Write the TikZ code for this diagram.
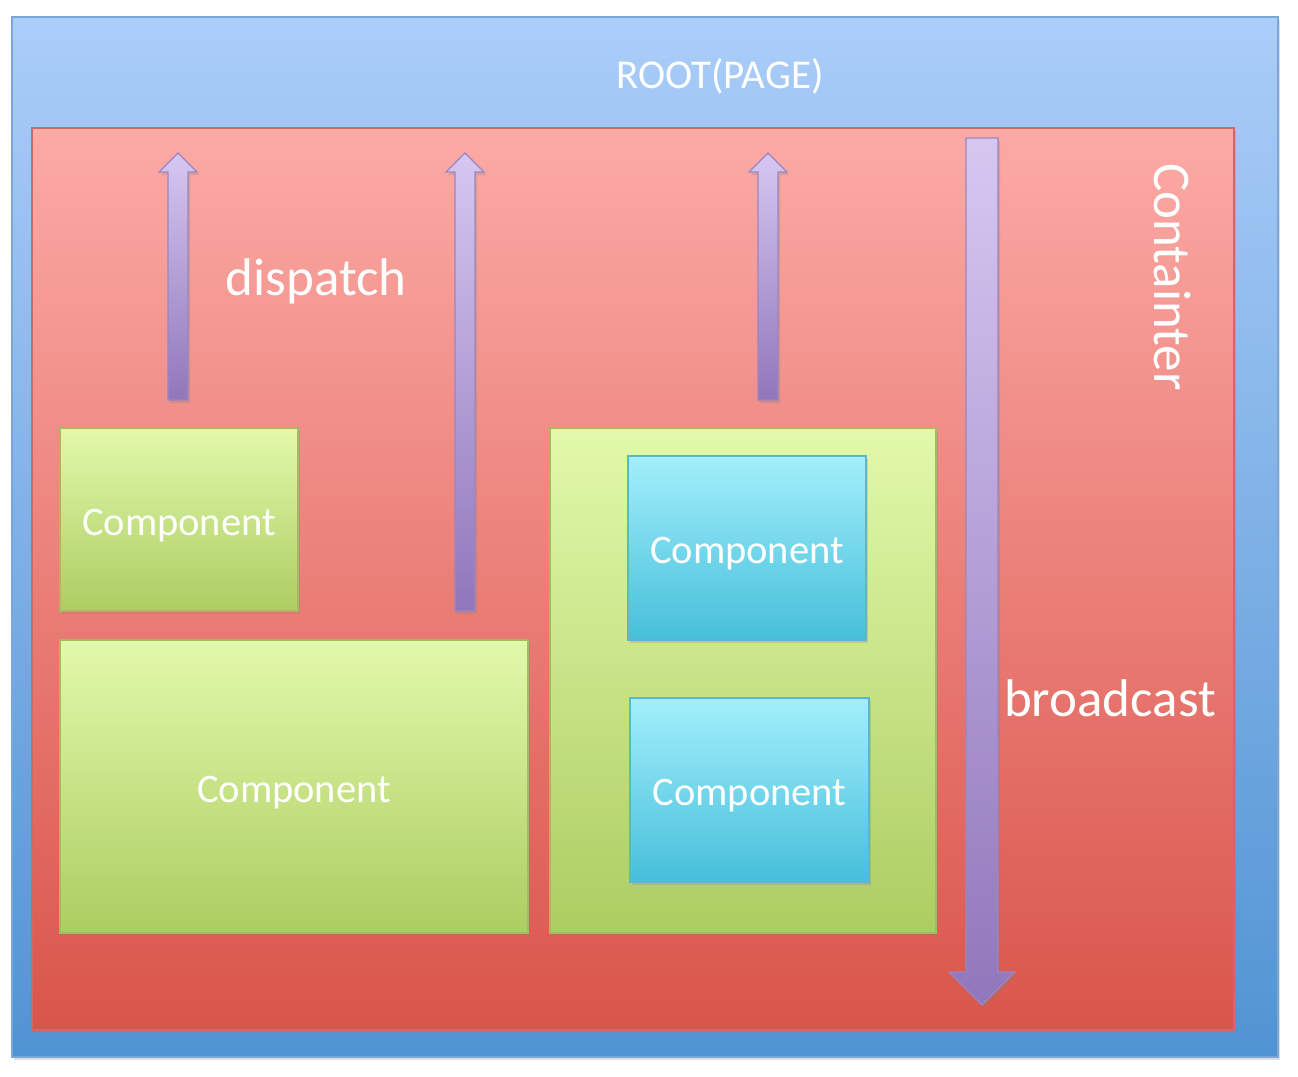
\documentclass[tikz,border=0pt]{standalone}
\usepackage{fontspec}
\setmainfont{Carlito}
\usetikzlibrary{calc,shadows}
\definecolor{rootTop}{HTML}{ABCDF9}
\definecolor{rootBot}{HTML}{5194D3}
\definecolor{rootLine}{HTML}{7AA6D8}
\definecolor{boxTop}{HTML}{FCAAA6}
\definecolor{boxBot}{HTML}{D9554B}
\definecolor{boxLine}{HTML}{CF6A62}
\definecolor{greenTop}{HTML}{E2F9AB}
\definecolor{greenBot}{HTML}{ADCD62}
\definecolor{greenLine}{HTML}{A0BE60}
\definecolor{cyanTop}{HTML}{A3EFFB}
\definecolor{cyanBot}{HTML}{46BFDB}
\definecolor{cyanLine}{HTML}{5CB6CC}
\definecolor{arrowTop}{HTML}{D6C7F1}
\definecolor{arrowBot}{HTML}{9177BB}
\definecolor{arrowLine}{HTML}{9A86C2}
\tikzset{
  softshadow/.style={drop shadow={opacity=0.25, shadow xshift=2pt, shadow yshift=-3pt}},
  panel/.style={draw, line width=1.5pt, inner sep=0pt, softshadow},
  rootpanel/.style={panel, draw=rootLine, top color=rootTop, bottom color=rootBot},
  boxpanel/.style={panel, draw=boxLine, top color=boxTop, bottom color=boxBot},
  greenpanel/.style={panel, draw=greenLine, top color=greenTop, bottom color=greenBot},
  cyanpanel/.style={panel, draw=cyanLine, top color=cyanTop, bottom color=cyanBot},
  comptext/.style={text=white, font=\fontsize{40.5}{46}\selectfont},
  bigtext/.style={text=white, font=\fontsize{53}{60}\selectfont},
  blockarrow/.style={draw=arrowLine, line width=1.2pt, line join=miter,
    top color=arrowTop, bottom color=arrowBot, softshadow}
}
% up arrow: #1 centre x, #2 foot y, #3 tip y
\newcommand{\raisearrow}[3]{
\coordinate (foot) at (#1, #2);
\coordinate (tip) at (#1, #3);
\shade[blockarrow] ($(foot) + (-10, 0)$) -- ($(tip) + (-10, 19)$)
  -- ($(tip) + (-19, 19)$) -- (tip) -- ($(tip) + (19, 19)$)
  -- ($(tip) + (10, 19)$) -- ($(foot) + (10, 0)$) -- cycle;
}
% down arrow: #1 centre x, #2 top y, #3 tip y
\newcommand{\droparrow}[3]{
\coordinate (head) at (#1, #2);
\coordinate (tip) at (#1, #3);
\shade[blockarrow] ($(head) + (-16, 0)$) -- ($(tip) + (-16, -33)$)
  -- ($(tip) + (-33, -33)$) -- (tip) -- ($(tip) + (33, -33)$)
  -- ($(tip) + (16, -33)$) -- ($(head) + (16, 0)$) -- cycle;
}

\begin{document}
\begin{tikzpicture}[x=1pt, y=-1pt]
\useasboundingbox (0, 0) rectangle (1298, 1076);
% page and container
\node[rootpanel, minimum width=1266, minimum height=1040] (root) at (645, 537) {};
\node[text=white, font=\fontsize{41}{47}\selectfont] (rootlbl) at (720, 76) {ROOT(PAGE)};
\node[boxpanel, minimum width=1202, minimum height=902] (cont) at (633, 579) {};
\node[bigtext, rotate=-90] (contlbl) at (1173, 277) {Containter};
% components
\node[greenpanel, minimum width=238, minimum height=183] (compA) at (179, 519.5) {};
\node[comptext] at ($(compA) + (0, 6)$) {Component};
\node[greenpanel, minimum width=468, minimum height=293] (compB) at (294, 786.5) {};
\node[comptext] at ($(compB) + (0, 6)$) {Component};
\node[greenpanel, minimum width=386, minimum height=505] (group) at (743, 680.5) {};
\node[cyanpanel, minimum width=238, minimum height=184] (compC) at (747, 548) {};
\node[comptext] at ($(compC) + (0, 6)$) {Component};
\node[cyanpanel, minimum width=239, minimum height=184] (compD) at (749.5, 790) {};
\node[comptext] at ($(compD) + (0, 6)$) {Component};
% events
\raisearrow{178}{400}{153}
\raisearrow{465}{611}{153}
\raisearrow{768}{400}{153}
\droparrow{982}{138}{1005}
\node[bigtext] (displbl) at (316, 281) {dispatch};
\node[bigtext] (bcastlbl) at (1110, 698) {broadcast};
\end{tikzpicture}
\end{document}
